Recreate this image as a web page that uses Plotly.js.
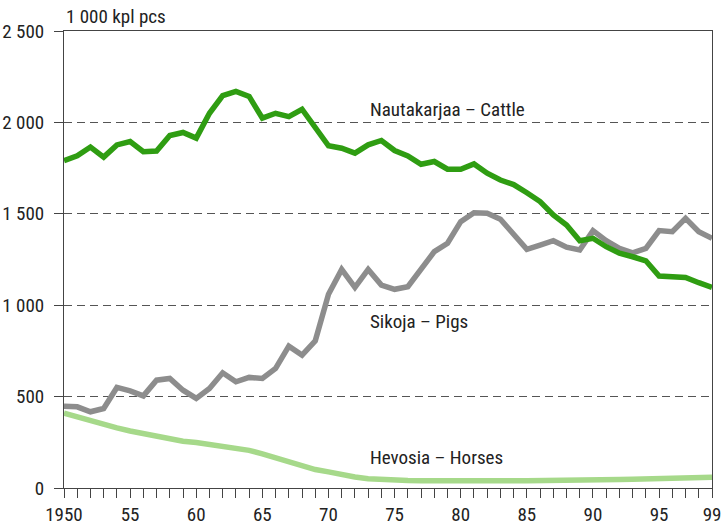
<!DOCTYPE html>
<html>
<head>
<meta charset="utf-8">
<script src="https://cdn.plot.ly/plotly-3.0.1.min.js"></script>
<style>
html,body{margin:0;padding:0;background:#fff;}
#chart{width:726px;height:528px;}
</style>
</head>
<body>
<div id="chart"></div>
<script>
const years = [1950,1951,1952,1953,1954,1955,1956,1957,1958,1959,
               1960,1961,1962,1963,1964,1965,1966,1967,1968,1969,
               1970,1971,1972,1973,1974,1975,1976,1977,1978,1979,
               1980,1981,1982,1983,1984,1985,1986,1987,1988,1989,
               1990,1991,1992,1993,1994,1995,1996,1997,1998,1999];

const cattle = [1791,1817,1865,1810,1877,1895,1840,1843,1928,1945,
                1914,2050,2146,2170,2142,2023,2050,2032,2072,1977,
                1872,1859,1832,1877,1901,1846,1817,1771,1786,1744,
                1744,1773,1722,1685,1660,1615,1567,1494,1439,1353,
                1366,1320,1284,1265,1243,1160,1156,1152,1123,1098];

const pigs = [447,444,417,435,550,531,504,590,599,535,
              490,544,630,581,605,599,654,776,727,805,
              1060,1196,1098,1196,1110,1087,1101,1192,1293,1339,
              1457,1506,1503,1470,1384,1306,1329,1353,1317,1302,
              1408,1353,1311,1287,1311,1408,1402,1475,1402,1366];

const horses = [410,389,367,343,329,312,298,279,267,256,
                249,238,228,221,206,187,166,142,119,101,
                88,73,60,51,46,43,41,40,39,38,
                38,38,38,38,39,40,40,41,41,42,
                44,46,47,48,50,52,53,55,57,59];

const yTicks = [0,500,1000,1500,2000,2500];
const yTickText = ["0","500","1 000","1 500","2 000","2 500"];
const xTickText = years.map(y => {
  if (y === 1950) return "1950";
  if (y === 1999) return "99";
  if (y % 5 === 0) return String(y).slice(2);
  return "";
});

const labelCattle = "Nautakarjaa – Cattle";
const labelPigs = "Sikoja – Pigs";
const labelHorses = "Hevosia – Horses";
const unitLabel = "1 000 kpl pcs";

const FONT = "'Liberation Sans Narrow', 'Roboto Condensed', 'Arial Narrow', Roboto, sans-serif";
const FS = 19;

const traces = [
  {x: years, y: horses, type: 'scatter', mode: 'lines',
   line: {color: '#a6d98a', width: 5.5}, hoverinfo: 'skip'},
  {x: years, y: pigs, type: 'scatter', mode: 'lines',
   line: {color: '#8d8d8d', width: 5.5}, hoverinfo: 'skip'},
  {x: years, y: cattle, type: 'scatter', mode: 'lines',
   line: {color: '#2f9d12', width: 5.5}, hoverinfo: 'skip'}
];

const layout = {
  width: 726, height: 528,
  margin: {l: 64, r: 14, t: 31, b: 40},
  paper_bgcolor: '#fff', plot_bgcolor: '#fff',
  showlegend: false,
  font: {family: FONT, size: FS, color: '#222'},
  xaxis: {
    range: [1950, 1999],
    tickvals: years, ticktext: xTickText,
    ticks: 'outside', ticklen: 9, tickwidth: 1, tickcolor: '#444',
    showline: true, linecolor: '#444', linewidth: 1, mirror: true,
    showgrid: false, zeroline: false,
    tickfont: {family: FONT, size: FS, color: '#222'},
    fixedrange: true
  },
  yaxis: {
    range: [0, 2500],
    tickvals: yTicks, ticktext: yTickText,
    ticks: 'outside', ticklen: 9, tickwidth: 1, tickcolor: '#444',
    ticklabelstandoff: 6,
    showline: true, linecolor: '#444', linewidth: 1, mirror: true,
    showgrid: true, gridcolor: '#555', gridwidth: 1, griddash: '8px,5px',
    zeroline: false,
    tickfont: {family: FONT, size: FS, color: '#222'},
    fixedrange: true
  },
  annotations: [
    {text: unitLabel, xref: 'paper', yref: 'paper', x: 0, y: 1,
     xanchor: 'left', yanchor: 'bottom', xshift: 0, yshift: 1, showarrow: false,
     font: {family: FONT, size: FS, color: '#222'}},
    {text: labelCattle, xref: 'x', yref: 'y', x: 1973, y: 2070,
     xanchor: 'left', yanchor: 'middle', showarrow: false,
     font: {family: FONT, size: FS, color: '#222'}},
    {text: labelPigs, xref: 'x', yref: 'y', x: 1973, y: 910,
     xanchor: 'left', yanchor: 'middle', showarrow: false,
     font: {family: FONT, size: FS, color: '#222'}},
    {text: labelHorses, xref: 'x', yref: 'y', x: 1973, y: 168,
     xanchor: 'left', yanchor: 'middle', showarrow: false,
     font: {family: FONT, size: FS, color: '#222'}}
  ]
};

Plotly.newPlot('chart', traces, layout, {staticPlot: true, displayModeBar: false});
</script>
</body>
</html>
